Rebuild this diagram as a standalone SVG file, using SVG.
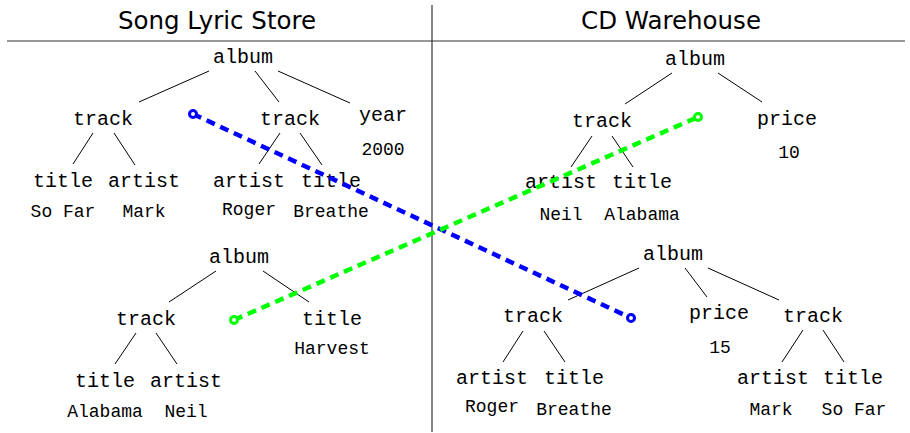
<svg xmlns="http://www.w3.org/2000/svg" width="910" height="433" viewBox="0 0 910 433">
  <style>
    .hdr { font-family: "DejaVu Sans", "Liberation Sans", sans-serif; font-size: 24.5px; fill: #000; text-anchor: middle; }
    .el { font-family: "Liberation Mono", "DejaVu Sans Mono", monospace; font-size: 20px; fill: #000; text-anchor: middle; }
    .val { font-family: "Liberation Mono", "DejaVu Sans Mono", monospace; font-size: 18px; fill: #000; text-anchor: middle; }
    .edge { stroke: #000; stroke-width: 1; fill: none; }
    .frame { stroke: #333; stroke-width: 1.2; fill: none; }
    .link { stroke-width: 4.5; stroke-dasharray: 9 6; fill: none; }
    .end { fill: #fff; stroke-width: 3; }
  </style>

  <!-- table frame and headings -->
  <g id="frame">
    <line class="frame" x1="7" y1="41" x2="905" y2="41"/>
    <line class="frame" x1="432" y1="5" x2="432" y2="432"/>
    <text class="hdr" x="217" y="29">Song Lyric Store</text>
    <text class="hdr" x="671" y="29">CD Warehouse</text>
  </g>

  <!-- Song Lyric Store: first album -->
  <g id="sls-album1">
    <text class="el" x="243" y="63">album</text>
    <line class="edge" x1="209" y1="71" x2="139" y2="102"/>
    <line class="edge" x1="255" y1="71" x2="279" y2="102"/>
    <line class="edge" x1="278" y1="71" x2="350" y2="103"/>
    <text class="el" x="103" y="125">track</text>
    <line class="edge" x1="93" y1="133" x2="73" y2="164"/>
    <line class="edge" x1="114" y1="133" x2="135" y2="165"/>
    <text class="el" x="63" y="187">title</text>
    <text class="el" x="144" y="187">artist</text>
    <text class="val" x="63" y="217">So Far</text>
    <text class="val" x="144" y="217">Mark</text>
    <text class="el" x="290" y="125">track</text>
    <line class="edge" x1="280" y1="133" x2="259" y2="164"/>
    <line class="edge" x1="300" y1="133" x2="322" y2="165"/>
    <text class="el" x="249" y="187">artist</text>
    <text class="el" x="331" y="187">title</text>
    <text class="val" x="249" y="215">Roger</text>
    <text class="val" x="331" y="217">Breathe</text>
    <text class="el" x="383" y="121">year</text>
    <text class="val" x="383" y="155">2000</text>
  </g>

  <!-- Song Lyric Store: second album -->
  <g id="sls-album2">
    <text class="el" x="239" y="263">album</text>
    <line class="edge" x1="216" y1="271" x2="169" y2="302"/>
    <line class="edge" x1="263" y1="271" x2="309" y2="302"/>
    <text class="el" x="146" y="325">track</text>
    <line class="edge" x1="136" y1="333" x2="115" y2="364"/>
    <line class="edge" x1="156" y1="333" x2="177" y2="364"/>
    <text class="el" x="105" y="387">title</text>
    <text class="el" x="186" y="387">artist</text>
    <text class="val" x="105" y="417">Alabama</text>
    <text class="val" x="186" y="417">Neil</text>
    <text class="el" x="332" y="325">title</text>
    <text class="val" x="332" y="354">Harvest</text>
  </g>

  <!-- CD Warehouse: first album -->
  <g id="cdw-album1">
    <text class="el" x="695" y="65">album</text>
    <line class="edge" x1="672" y1="73" x2="625" y2="104"/>
    <line class="edge" x1="718" y1="73" x2="762" y2="102"/>
    <text class="el" x="602" y="127">track</text>
    <line class="edge" x1="592" y1="136" x2="571" y2="167"/>
    <line class="edge" x1="612" y1="136" x2="633" y2="167"/>
    <text class="el" x="561" y="188">artist</text>
    <text class="el" x="642" y="188">title</text>
    <text class="val" x="561" y="220">Neil</text>
    <text class="val" x="642" y="220">Alabama</text>
    <text class="el" x="787" y="125">price</text>
    <text class="val" x="789" y="158">10</text>
  </g>

  <!-- CD Warehouse: second album -->
  <g id="cdw-album2">
    <text class="el" x="673" y="260">album</text>
    <line class="edge" x1="639" y1="268" x2="568" y2="300"/>
    <line class="edge" x1="685" y1="268" x2="707" y2="297"/>
    <line class="edge" x1="708" y1="268" x2="779" y2="300"/>
    <text class="el" x="533" y="322">track</text>
    <line class="edge" x1="523" y1="331" x2="503" y2="362"/>
    <line class="edge" x1="544" y1="331" x2="565" y2="362"/>
    <text class="el" x="492" y="384">artist</text>
    <text class="el" x="574" y="384">title</text>
    <text class="val" x="492" y="412">Roger</text>
    <text class="val" x="574" y="415">Breathe</text>
    <text class="el" x="719" y="319">price</text>
    <text class="val" x="720" y="353">15</text>
    <text class="el" x="813" y="322">track</text>
    <line class="edge" x1="803" y1="330" x2="782" y2="362"/>
    <line class="edge" x1="823" y1="330" x2="844" y2="362"/>
    <text class="el" x="773" y="384">artist</text>
    <text class="el" x="853" y="384">title</text>
    <text class="val" x="771" y="415">Mark</text>
    <text class="val" x="854" y="415">So Far</text>
  </g>

  <!-- correspondences between the two sources -->
  <g id="connectors">
    <line class="link" stroke="#0000ff" x1="193" y1="114" x2="631" y2="318"/>
    <circle class="end" stroke="#0000ff" cx="193" cy="114" r="3.5"/>
    <circle class="end" stroke="#0000ff" cx="631" cy="318" r="3.5"/>
    <line class="link" stroke="#00ff00" x1="234" y1="320" x2="698" y2="117"/>
    <circle class="end" stroke="#00ff00" cx="234" cy="320" r="3.5"/>
    <circle class="end" stroke="#00ff00" cx="698" cy="117" r="3.5"/>
  </g>
</svg>
